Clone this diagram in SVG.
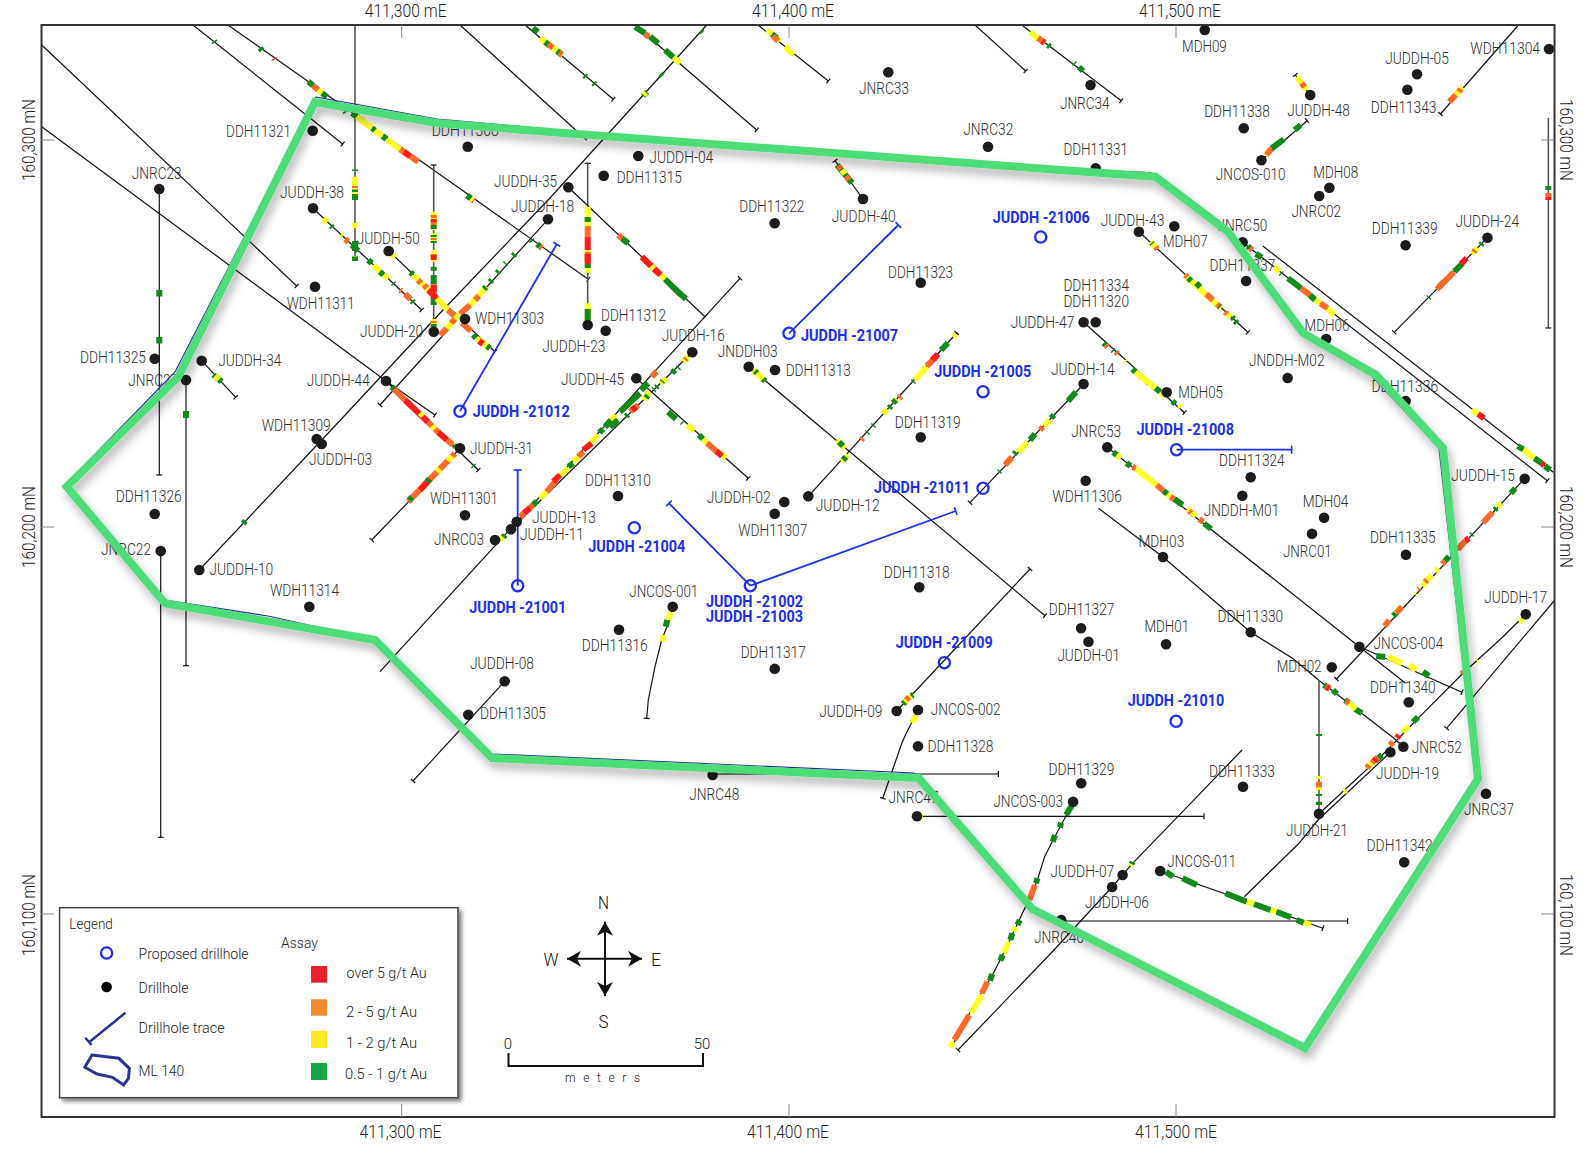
<svg xmlns="http://www.w3.org/2000/svg" width="1586" height="1150" viewBox="0 0 1586 1150">
<style>
text{font-family:Roboto,"Liberation Sans",sans-serif}
.l{font-size:16.5px;font-weight:300;fill:#2e2e2e}
.b{font-size:16.5px;font-weight:700;fill:#1a2ff0}
.a{font-size:17.5px;font-weight:300;fill:#222}
.k{font-size:15px;font-weight:300;fill:#222}
.c{font-size:19px;font-weight:300;fill:#111;text-anchor:middle}
.d{fill:#1c1c1c}
.h{fill:none;stroke:#1a2ff0;stroke-width:2.3}
.t,.n,.v,.u,.p{fill:none}
.t,.n{stroke:#111;stroke-width:1.2}
.v,.u{stroke:#555;stroke-width:1.6}
.t,.v{marker-end:url(#cap)}
.p{stroke:#1a2ff0;stroke-width:1.8;marker-end:url(#bcap)}
.r,.o,.y,.g{fill:none;stroke-width:6}
.r{stroke:#ff1a1a}.o{stroke:#ff6a2a}.y{stroke:#ffff2a}.g{stroke:#118a1a}
.i{fill:none;stroke:#888;stroke-width:1}
</style>
<defs>
<marker id="cap" markerUnits="userSpaceOnUse" markerWidth="8" markerHeight="8" refX="4" refY="4" orient="auto"><path d="M4 1V7" stroke="#111" stroke-width="1.2"/></marker>
<marker id="bcap" markerUnits="userSpaceOnUse" markerWidth="10" markerHeight="10" refX="5" refY="5" orient="auto"><path d="M5 1V9" stroke="#1a2ff0" stroke-width="1.6"/></marker>
<marker id="st" markerUnits="userSpaceOnUse" markerWidth="16" markerHeight="18" refX="14" refY="9" orient="auto"><path d="M14 9L0 1L4 9L0 17Z" fill="#111"/></marker>
<filter id="sh" x="-5%" y="-5%" width="110%" height="110%"><feDropShadow dx="3" dy="6" stdDeviation="5" flood-color="#000" flood-opacity=".32"/></filter>
<filter id="ls" x="-5%" y="-5%" width="110%" height="110%"><feDropShadow dx="3" dy="3" stdDeviation="2" flood-color="#000" flood-opacity=".5"/></filter>
</defs>
<rect width="1586" height="1150" fill="#fff"/>
<g id="connectors">
<path class="t" d="M193 25L342.7 144"/>
<path class="t" d="M228 25L588.3 279.3"/>
<path class="t" d="M41.7 45L296.7 286"/>
<path class="t" d="M41.7 126.7L386 381L435 415"/>
<path class="u" d="M355 25V261"/>
<path class="v" d="M433.7 331V165"/>
<path class="v" d="M587.7 325V163.3"/>
<path class="t" d="M159.3 189V475"/>
<path class="t" d="M186 380V665.7"/>
<path class="t" d="M160.7 551V837.3"/>
<path class="t" d="M313 208.3L421.7 310"/>
<path class="t" d="M388.7 251L495 351.7"/>
<path class="t" d="M548 219.3L380 405"/>
<path class="n" d="M706.7 25L550 198L443 310L333 428L199.3 570"/>
<path class="t" d="M568.3 187.3L705 316.7"/>
<path class="t" d="M380 671.7L516.7 522L740 278.3"/>
<path class="n" d="M692.3 352.3L511 529.3"/>
<path class="t" d="M636.3 378.3L748.3 478.3"/>
<path class="t" d="M748.7 366.7L1045 615.7"/>
<path class="t" d="M808.3 496.3L956.7 333"/>
<path class="t" d="M1083.8 384L970 502.7"/>
<path class="t" d="M863 199L835 160.7"/>
<path class="n" d="M1098.5 508.3L1163 557L1250.7 632.3L1292.5 658.3L1318.5 680L1394 738.3L1403.3 746.7"/>
<path class="n" d="M1525.6 614.3L1503 636.7L1463 673.3L1418 718.3L1382.3 755L1319 813.7"/>
<path class="t" d="M1554 601L1446.6 728.3"/>
<path class="n" d="M1390.4 752.3L1318 820L1299 843.3L1244.4 896.7"/>
<path class="u" d="M1319 813.7V680"/>
<path class="t" d="M918 710L911.4 723.3Q906 733 901.8 743.3L891.4 773.3L882.8 798.3"/>
<path class="v" d="M712.6 774H998.4"/>
<path class="t" d="M917 816.3H1204"/>
<path class="v" d="M1061 921H1347.6"/>
<path class="t" d="M1242 750L1177.8 816.7L1132.6 863.3L1112 887L1054 950L958 1050"/>
<path class="n" d="M1073 802L1068.4 811.7L1061 825L1054 838.3L1044.6 856.7L1037.4 880L1030.3 896.7L1018.4 921.7L1001.8 956.7L991.3 977.3L975.6 1001.7L951.8 1046.7"/>
<path class="t" d="M672.7 606.7L668.3 623.3L661.7 640L655 666.7L648.3 700L646.7 718.3"/>
<path class="t" d="M1160.2 871L1322.9 928.3"/>
<path class="t" d="M896.7 711L1030 569"/>
<path class="t" d="M504.7 681.3L413 781"/>
<path class="t" d="M386 381L478.3 470"/>
<path class="t" d="M460 448.3L371.7 540"/>
<path class="t" d="M201.7 360.7L235.7 397.3"/>
<path class="n" d="M460 25L586.7 140"/>
<path class="t" d="M525 25L613.3 99.3"/>
<path class="t" d="M635 25L756.7 130"/>
<path class="t" d="M758 25L828.3 81"/>
<path class="t" d="M975 25L1025.7 71"/>
<path class="t" d="M1023 26L1121.2 100.7"/>
<path class="p" d="M460 411.3L556.7 244.3"/>
<path class="p" d="M517.7 585.7V470"/>
<path class="p" d="M789 333.3L898.3 225"/>
<path class="p" d="M750.3 585.7L669 503.3"/>
<path class="p" d="M750.3 585.7L955.7 511"/>

<path class="g" d="M214 41L215 42.5M260 48L262 50.5M308.3 81.7L313 85.5M322 93L327 97M345 111L346 112.5M352 113L358 117.5M372 128L375 130.5M382.5 136L386.5 139M467 195.5L471 198.5M531 240L532 241.5M537 244L540 246.5"/>
<path class="r" d="M274 58.5L274.6 59.5"/>
<path class="o" d="M313 85.5L318.3 90M360 119L363 121M400 149.3L418.3 161.7M472 199.5L474 201M540 246.5L542 248"/>
<path class="y" d="M318.3 90L322 93M356.7 116.7L372 128M375 130.5L382.5 136M386.7 139.3L400 149.3M471 198.5L473 200"/>
<path class="r" d="M404 152L410 156"/>
<path class="g" d="M355 169.5V171M355 194V200"/>
<path class="y" d="M355 176.7V194M355 223V228M355 256V260"/>
<path class="o" d="M355 186V188"/>
<path class="g" d="M355 189.5V192M355 241V251M355 256.5V261"/>
<path class="y" d="M433.7 211.7V230M433.7 233V243M433.7 250V262M433.7 319V326"/>
<path class="o" d="M433.7 215V218M433.7 222V225M433.7 238V240M433.7 254V257M433.7 284V293M433.7 321V323"/>
<path class="r" d="M433.7 219V222M433.7 255V260M433.7 285V292"/>
<path class="g" d="M433.7 225V229M433.7 235V237M433.7 241V243M433.7 266.7V270.7M433.7 275V284M433.7 293V305M433.7 324V327"/>
<path class="y" d="M587.7 206.7V226M587.7 250V254M587.7 273V268M587.7 303.3V322M587.7 306V309"/>
<path class="g" d="M587.7 217V222M587.7 264V268M587.7 309V322"/>
<path class="o" d="M587.7 226V237M587.7 252V262"/>
<path class="r" d="M587.7 237V250M587.7 254V264"/>
<path class="g" d="M159.3 290V296.5M159.3 337V343.5M186 411V418"/>
<path class="y" d="M323.3 218.3L327.3 222.3M341 234.5L342.5 236M373.3 265L380 271.7M383.3 275L388.3 278.3"/>
<path class="g" d="M331 226L332.5 227.5M351.7 245L358.3 250.7M368.3 260L371.7 263.3M380 271.7L383.3 275M393 283L394 284M412 301L413.5 302.5"/>
<path class="o" d="M345 239.3L348.3 241.7M400 290L401.5 291M405 294L410.7 299.3"/>
<path class="y" d="M392 255L395 257.5M413.3 275L428.3 290M436.7 298.3L448 310M476.7 338.3L490 348.3"/>
<path class="g" d="M410.5 272.3L413 274.5M448 310L455 316M473 335L476 338M487 346L490 348.3"/>
<path class="o" d="M418 280L421 283M424 285L427 288M448 310L455 316M462 323L471 331"/>
<path class="r" d="M428.3 290L436.7 298.3M479 341L483 344"/>
<path class="o" d="M440 335L446.7 328.3M460 314L470 305"/>
<path class="y" d="M446.7 328.3L460 314M470 305L486.7 286.7"/>
<path class="o" d="M451 323L455 319M475 300L479 296"/>
<path class="g" d="M484 289L486 287M490 282L492 280M497 273L499 271M505 264L506 263M513 256L515 254"/>
<path class="g" d="M701 31L702.5 32.5M660.5 74L662.5 76M643 96L647 92"/>
<path class="y" d="M643.5 95L646 92.5"/>
<path class="g" d="M243 523.5L245.5 521"/>
<path class="o" d="M618.3 235L622 238.5M641.7 256.7L661 275M675 289L681 295"/>
<path class="g" d="M622 238.5L628.3 243.3M665 279L675 289L686 299"/>
<path class="y" d="M651 266L654 269M661 275L665 279"/>
<path class="r" d="M642 257L651 266M654 269L660 274.5"/>
<path class="g" d="M505 535L503 537.5M533 505L537 501M568.3 466.7L573.3 463.3M599.3 432.7L603 429M605 427L611 420M653.3 390L654.5 389M656 387.5L657.5 386M672 373L675 370M678 368.5L679 367.5"/>
<path class="g" stroke-width="7.5" d="M620 411.7L640 393.3M641 390L648.3 383.3"/>
<path class="y" d="M540 498.3L546.7 491.7M560 475L568.3 468.3M573.3 461.7L578.3 456.7M590 443.3L598.3 435M611 420L616 415M643.3 400L650 391.7M660 383.3L666.7 378.3M683.3 361.7L688.3 356.7M500 540L503 537"/>
<path class="o" d="M546.7 491.7L556.7 480M578.3 456.7L583.3 451.7M520 516.7L533 505M651.7 376.7L656.7 371.7M630 411.7L638.3 405M685 360L686.5 358.5"/>
<path class="r" d="M553.3 481.7L560 475M583.3 450L591.7 443.3M524 513L530 508M632 410L636 407"/>
<path class="g" d="M610 427L618 420M646 398L648 395.5M662 382L663 381M626 416.5L628 414.5"/>
<path class="g" d="M668 412L676 419M682 422L683 423M699 435L703 439"/>
<path class="y" d="M687 425L694 431M703 439L707 443M715 450L726 458"/>
<path class="o" d="M707 443L716 451"/>
<path class="r" d="M716 451L722 456"/>
<path class="y" d="M753 370L765 380.7M837 440L845 448.3"/>
<path class="g" d="M755 371L757 373M763 379L765 381M839 442L843 446"/>
<path class="y" d="M841.7 461.7L848 455M883 414L887 409M893 403L897 399M915 380L926.7 366.7M953 337L956 334"/>
<path class="g" d="M843 460L846 457M867 433L868 432M873 426L874 425M889 408L891 406M893 403L896 400M913 382L914 381M941 350L948 343"/>
<path class="o" d="M861 440L863 438M899 398L901 396M926.7 366L938 355"/>
<path class="r" d="M932 360L938 354"/>
<path class="g" d="M1076 392L1068 401M1054 415L1051 418M1035 434L1030 440M1014 454L1016 452M1000 471L999 472"/>
<path class="y" d="M1050 420L1044 426M1028 442L1018 452M1010 460L1007 463"/>
<path class="o" d="M1043 427L1040 430M1012 457L1005 465"/>
<path class="g" d="M837 165L852 183" stroke-width="4"/>
<path class="y" d="M842 170L845 174" stroke-width="4"/>
<path class="o" d="M846 176L849 180M838 166L841 169" stroke-width="4"/>
<path class="g" d="M1324 685L1328 688M1333 690L1337 694M1345 700L1348 702M1355 709L1362 713.3"/>
<path class="o" d="M1326 686L1330 689M1346 701L1350 704"/>
<path class="r" d="M1327 687L1329 688.5"/>
<path class="y" d="M1349 703L1356 709"/>
<path class="y" d="M1519.5 622L1522.5 619M1479 661L1478 662"/>
<path class="o" d="M1464 672L1462 674"/>
<path class="g" d="M1418 717L1413 722M1382 755L1375 761"/>
<path class="y" d="M1409 726L1403 732M1390 745L1393 742M1373 762L1367 768M1346 790L1344 792"/>
<path class="o" d="M1393 742L1390 745M1378 757L1372 763M1369 765L1367 768"/>
<path class="r" d="M1399 735L1397 738M1376 759L1374 761"/>
<path class="g" d="M1319 734V736M1319 794V796M1319 801.7V805"/>
<path class="y" d="M1319 776V779M1319 787V790"/>
<path class="o" d="M1319 781.7V787.3"/>
<path class="y" d="M916 715L912.3 722.7M920 816.3H923M1132 864L1131 866"/>
<path class="g" d="M1132.5 862L1131.5 864"/>
<path class="g" d="M1072.2 805L1066 815M1061.2 822.7L1059.8 827.3M1055 835L1052.7 841.7M1037.4 878.3L1036 883.3M1019.8 920L1017.5 925M1012.2 933.3L1010.3 940M1002.7 955L1000.3 960.7M992.2 974L989.9 980.7"/>
<path class="o" d="M1035 885L1029.3 900M987.5 981.7L981.8 993.3M969.4 1015L954.2 1040"/>
<path class="y" d="M1016 926.7L1014.1 931.7M1008.9 941.7L1004 953.3M981.8 995L970.8 1013.3M953.2 1041.7L950.4 1047.3"/>
<path class="y" d="M671 611.7L668.3 620M664 635L662.3 641.7"/>
<path class="g" d="M667.3 620L665.7 626.7"/>
<path class="g" d="M1165.9 871.7L1173 876.7M1182.5 878.3L1196.8 885M1225.4 893.3L1246.8 901.7M1253.9 904L1270.5 910M1276.3 911.7L1291 917.3M1296.7 920L1303.8 922.7"/>
<path class="y" d="M1246.8 901.7L1253.9 904M1270.5 910L1276.3 911.7M1303.8 922.7L1311 925"/>
<path class="g" d="M903 704L906 701M911 696L913.3 695"/>
<path class="y" d="M905 702L908 699M909 698L911 696"/>
<path class="o" d="M906 700L909 697"/>
<path class="g" d="M391.7 386.7L394 389"/>
<path class="o" d="M394 389L405 400M428 422L438 432M447 440L453 445"/>
<path class="r" d="M405 400L428 422M438 432L447 440"/>
<path class="y" d="M420 413L423 416M432 426L435 429"/>
<path class="g" d="M454 445L456 447M473 465.5L474 466.5"/>
<path class="o" d="M455 453.3L408.3 501.7"/>
<path class="y" d="M452 456L448 461M440 469L437 472"/>
<path class="r" d="M430 479L420 490"/>
<path class="g" d="M429 479L427 482M412 497L409 500"/>
<path class="g" d="M213.3 375L221.7 381.7" stroke-width="4"/>
<path class="y" d="M215 376L219 379.5" stroke-width="4"/>
<path class="y" d="M540 38L563 55M673.3 57.3L680 63.3M767 30L780 41M785 46.7L793.3 55M1030 32L1045 43"/>
<path class="g" d="M533 28L538 32M545 42L550 46M557 51L561 54M584.5 75.5L586 77M593.5 83L595 84.5M635 26.7L645 33.3M650 36.7L658.3 43.3M665 50L673.3 57.3M772 34L777 38M1048 45L1050 46.7M1074 63L1075 64M1079 67L1083 71"/>
<path class="o" d="M548 44L553 48M559 53L562 55M645 34L649 37M773 36L778 41M1038 38L1045 43"/>
<path class="r" d="M1042 41L1044 42.5"/>
<g id="east-traces" transform="matrix(.9948 0 0 1 5.41 0)">
<path class="t" d="M1083.8 322.3L1185.3 412.7"/>
<path class="t" d="M1139.4 231.7L1249 332.3"/>
<path class="t" d="M1262.6 160.3L1308.5 120.7"/>
<path class="t" d="M1311.6 95L1296.6 75"/>
<path class="t" d="M1521 25L1442.5 114"/>
<path class="t" d="M1489.8 237.7L1396 332.3"/>
<path class="t" d="M1243.7 242.3L1550 480.7"/>
<path class="n" d="M1264 246L1556 472.3"/>
<path class="t" d="M1527.2 478.7L1338 679"/>
<path class="n" d="M1107.6 447.3L1361 646.7L1407.5 683.3"/>
<path class="t" d="M1361 646.7L1464.2 692.3"/>
<path class="v" d="M1551 118V328"/>
<path class="p" d="M1177.2 449.7H1293"/>
<path class="g" d="M1104 343L1106 345M1113 350L1114 351M1132.8 369.3L1136 372M1156 388L1161 392M1173 401L1176 404"/>
<path class="o" d="M1106 345L1108 347M1116 352L1118 354M1140 375L1143 378M1147 381L1150 384M1153 386L1156 388"/>
<path class="y" d="M1126 360L1127 361M1136 372L1156 388M1161 392L1165 396M1180 405L1182 407"/>
<path class="y" d="M1151 242L1157 248M1185.3 275L1222 308.3M1228 314L1232 317"/>
<path class="o" d="M1156 247L1158 249M1186 275L1188 277M1207 294L1214 300M1218 304L1221 307M1226 312L1228 314"/>
<path class="g" d="M1152 243L1153 244M1189 278L1192 281M1197 283L1201 287M1220 306L1221 307M1233 317L1235 319M1236 321L1238 323"/>
<path class="y" d="M1266 155L1269 152"/>
<path class="o" d="M1267.5 155L1272.8 148.3"/>
<path class="g" d="M1272.8 148.3L1285 139.3M1296 130L1302 125"/>
<path class="y" d="M1308 90L1298 77" stroke-width="4"/>
<path class="o" d="M1306 87L1303 83" stroke-width="4"/>
<path class="y" d="M1465 87.3L1451.3 101.7"/>
<path class="o" d="M1458 95L1451.3 101.7M1463 89L1461 92"/>
<path class="g" d="M1484.5 243.3L1483 245M1465 263L1456.5 271.7M1431.5 297L1430.5 298M1446 281.7L1441 287"/>
<path class="y" d="M1480 248L1474 254"/>
<path class="o" d="M1477.5 250L1476 252M1456 272L1439 289.3"/>
<path class="r" d="M1469 258L1463 264"/>
<path class="g" d="M1249 246L1251 248M1257 254L1263 257.3M1282 273L1283 274M1289.2 278.3L1293.8 281.7M1293.8 281.7L1302.5 288.3M1311.3 295L1316.5 300"/>
<path class="o" d="M1251 248L1253.5 250M1302.5 288.3L1311.3 295M1321.8 303.3L1329 308.3"/>
<path class="y" d="M1275.2 266.7L1280.8 271.7M1316.5 300L1321.8 303.3M1329 308.3L1335.8 315"/>
<path class="y" d="M1474 410L1480.3 414M1525.8 449.3L1537 458.3"/>
<path class="r" d="M1480.3 414L1486.3 418.3M1544 463L1547 465.5"/>
<path class="g" d="M1520.2 446L1525.8 449.3M1537 458.3L1544 463M1547.5 466L1552.8 470"/>
<path class="g" d="M1517.8 488.3L1513.2 493.3M1499 508L1497 510M1474.5 534L1473.5 535M1451.2 556.7L1447 561M1397.7 613.3L1395 616"/>
<path class="y" d="M1503.8 503.3L1500 507M1440.8 568.3L1437.3 571.7M1433.8 575L1424.3 586M1417.5 593L1416.5 594M1404 606.7L1400 611"/>
<path class="o" d="M1495 512.3L1485.2 522.7M1467.7 540.7L1460 549.3M1447 561L1444.3 564M1429 580L1427 582M1421.5 588.3L1420.5 589.3M1404 606.7L1398 613M1391 620L1386.5 626"/>
<path class="r" d="M1471.2 538.3L1467.7 540.7"/>
<path class="g" d="M1113.5 452.3L1118 455.5M1127 463L1131 466M1164 490.7L1168 494M1175 499L1183.5 505M1193 513L1195 515M1205 523.5L1212 529"/>
<path class="y" d="M1117 455L1121.2 458M1136.3 468.3L1157.3 485M1168 494L1171 497M1188 509L1197 516"/>
<path class="o" d="M1133 467L1136.3 468.3M1157.3 485L1164 490.7M1171 497L1175 499M1190 511L1192 513M1200 519L1204 522"/>
<path class="g" d="M1378 656L1387 657" stroke-width="4"/>
<path class="y" d="M1390 656.7L1404 663.3M1411 665L1418 670"/>
<path class="g" d="M1425 671.7L1431 676M1551 186V190"/>
<path class="o" d="M1551 193V197"/>
<path class="r" d="M1551 197V200"/>
</g>
</g>
<g id="JNRC23"><circle class="d" cx="159.3" cy="189" r="5.3"/><text class="l" x="131.7" y="179" textLength="50" lengthAdjust="spacingAndGlyphs">JNRC23</text></g>
<g id="DDH11321"><circle class="d" cx="312.7" cy="130.7" r="5.3"/><text class="l" x="226" y="136.7" textLength="65" lengthAdjust="spacingAndGlyphs">DDH11321</text></g>
<g id="DDH11308"><circle class="d" cx="467.7" cy="146.7" r="5.3"/><text class="l" x="431.7" y="136" textLength="67" lengthAdjust="spacingAndGlyphs">DDH11308</text></g>
<g id="JUDDH-38"><circle class="d" cx="313" cy="208.3" r="5.3"/><text class="l" x="280" y="198.3" textLength="64" lengthAdjust="spacingAndGlyphs">JUDDH-38</text></g>
<g id="JUDDH-50"><circle class="d" cx="388.7" cy="251" r="5.3"/><text class="l" x="356.7" y="244.3" textLength="63" lengthAdjust="spacingAndGlyphs">JUDDH-50</text></g>
<g id="WDH11311"><circle class="d" cx="315" cy="286.7" r="5.3"/><text class="l" x="286.7" y="308.7" textLength="68" lengthAdjust="spacingAndGlyphs">WDH11311</text></g>
<g id="WDH11303"><circle class="d" cx="465" cy="319" r="5.3"/><text class="l" x="475" y="324.3" textLength="69" lengthAdjust="spacingAndGlyphs">WDH11303</text></g>
<g id="JUDDH-20"><circle class="d" cx="433.7" cy="331.7" r="5.3"/><text class="l" x="360" y="337.3" textLength="63" lengthAdjust="spacingAndGlyphs">JUDDH-20</text></g>
<g id="DDH11325"><circle class="d" cx="154.7" cy="358.7" r="5.3"/><text class="l" x="80" y="363.3" textLength="66" lengthAdjust="spacingAndGlyphs">DDH11325</text></g>
<g id="JUDDH-34"><circle class="d" cx="201.7" cy="360.7" r="5.3"/><text class="l" x="218.3" y="366" textLength="63" lengthAdjust="spacingAndGlyphs">JUDDH-34</text></g>
<g id="JUDDH-35"><circle class="d" cx="568.3" cy="187.3" r="5.3"/><text class="l" x="494" y="187.3" textLength="63" lengthAdjust="spacingAndGlyphs">JUDDH-35</text></g>
<g id="JUDDH-18"><circle class="d" cx="548" cy="219.3" r="5.3"/><text class="l" x="511" y="211.7" textLength="63" lengthAdjust="spacingAndGlyphs">JUDDH-18</text></g>
<g id="JUDDH-04"><circle class="d" cx="638.3" cy="156" r="5.3"/><text class="l" x="649.3" y="163.3" textLength="64" lengthAdjust="spacingAndGlyphs">JUDDH-04</text></g>
<g id="DDH11315"><circle class="d" cx="603.7" cy="175.7" r="5.3"/><text class="l" x="616.7" y="182.7" textLength="65" lengthAdjust="spacingAndGlyphs">DDH11315</text></g>
<g id="DDH11322"><circle class="d" cx="774.7" cy="223.3" r="5.3"/><text class="l" x="739.3" y="211.7" textLength="65" lengthAdjust="spacingAndGlyphs">DDH11322</text></g>
<g id="JUDDH-40"><circle class="d" cx="863" cy="199" r="5.3"/><text class="l" x="831.7" y="221.7" textLength="64" lengthAdjust="spacingAndGlyphs">JUDDH-40</text></g>
<g id="JNRC33"><circle class="d" cx="888.3" cy="72.3" r="5.3"/><text class="l" x="859" y="94.3" textLength="50" lengthAdjust="spacingAndGlyphs">JNRC33</text></g>
<g id="JNRC32"><circle class="d" cx="988" cy="146.7" r="5.3"/><text class="l" x="963.3" y="135" textLength="50" lengthAdjust="spacingAndGlyphs">JNRC32</text></g>
<g id="DDH11323"><circle class="d" cx="920.7" cy="282.7" r="5.3"/><text class="l" x="888" y="277.7" textLength="65" lengthAdjust="spacingAndGlyphs">DDH11323</text></g>
<g id="DDH11312"><circle class="d" cx="605.7" cy="330.7" r="5.3"/><text class="l" x="601" y="320.7" textLength="65" lengthAdjust="spacingAndGlyphs">DDH11312</text></g>
<g id="JUDDH-23"><circle class="d" cx="587.7" cy="325" r="5.3"/><text class="l" x="542.3" y="351.7" textLength="63" lengthAdjust="spacingAndGlyphs">JUDDH-23</text></g>
<g id="JUDDH-16"><circle class="d" cx="692.3" cy="352.3" r="5.3"/><text class="l" x="661.7" y="341" textLength="63" lengthAdjust="spacingAndGlyphs">JUDDH-16</text></g>
<g id="JNDDH03"><circle class="d" cx="748.7" cy="366.7" r="5.3"/><text class="l" x="717.7" y="357.3" textLength="60" lengthAdjust="spacingAndGlyphs">JNDDH03</text></g>
<g id="DDH11313"><circle class="d" cx="775" cy="370" r="5.3"/><text class="l" x="785.7" y="375.7" textLength="65" lengthAdjust="spacingAndGlyphs">DDH11313</text></g>
<g id="DDH11319"><circle class="d" cx="920.7" cy="437.3" r="5.3"/><text class="l" x="894.7" y="427.7" textLength="66" lengthAdjust="spacingAndGlyphs">DDH11319</text></g>
<g id="JUDDH-45"><circle class="d" cx="636.3" cy="378.3" r="5.3"/><text class="l" x="561" y="385" textLength="63" lengthAdjust="spacingAndGlyphs">JUDDH-45</text></g>
<g id="JUDDH-44"><circle class="d" cx="386" cy="381" r="5.3"/><text class="l" x="306.7" y="385.7" textLength="63" lengthAdjust="spacingAndGlyphs">JUDDH-44</text></g>
<g id="JNRC27"><circle class="d" cx="186" cy="380" r="5.3"/><text class="l" x="128.3" y="385.7" textLength="50" lengthAdjust="spacingAndGlyphs">JNRC27</text></g>
<g id="WDH11309"><circle class="d" cx="316.7" cy="439" r="5.3"/><text class="l" x="261.7" y="430.7" textLength="69" lengthAdjust="spacingAndGlyphs">WDH11309</text></g>
<g id="JUDDH-03"><circle class="d" cx="321.7" cy="444" r="5.3"/><text class="l" x="309" y="465" textLength="63" lengthAdjust="spacingAndGlyphs">JUDDH-03</text></g>
<g id="JUDDH-31"><circle class="d" cx="460" cy="448.3" r="5.3"/><text class="l" x="470" y="454.3" textLength="63" lengthAdjust="spacingAndGlyphs">JUDDH-31</text></g>
<g id="DDH11326"><circle class="d" cx="154.7" cy="514" r="5.3"/><text class="l" x="115.7" y="502.3" textLength="66" lengthAdjust="spacingAndGlyphs">DDH11326</text></g>
<g id="WDH11301"><circle class="d" cx="465" cy="515.3" r="5.3"/><text class="l" x="430" y="504.3" textLength="68" lengthAdjust="spacingAndGlyphs">WDH11301</text></g>
<g id="JNRC22"><circle class="d" cx="160.7" cy="551" r="5.3"/><text class="l" x="101" y="555" textLength="50" lengthAdjust="spacingAndGlyphs">JNRC22</text></g>
<g id="JUDDH-10"><circle class="d" cx="199.3" cy="570" r="5.3"/><text class="l" x="209.3" y="575.3" textLength="64" lengthAdjust="spacingAndGlyphs">JUDDH-10</text></g>
<g id="WDH11314"><circle class="d" cx="309.3" cy="606.7" r="5.3"/><text class="l" x="270" y="596" textLength="69" lengthAdjust="spacingAndGlyphs">WDH11314</text></g>
<g id="JUDDH-13"><circle class="d" cx="516.7" cy="521.7" r="5.3"/><text class="l" x="532" y="523.3" textLength="64" lengthAdjust="spacingAndGlyphs">JUDDH-13</text></g>
<g id="JUDDH-11"><circle class="d" cx="511" cy="529.3" r="5.3"/><text class="l" x="520" y="540" textLength="64" lengthAdjust="spacingAndGlyphs">JUDDH-11</text></g>
<g id="JNRC03"><circle class="d" cx="495" cy="540" r="5.3"/><text class="l" x="434" y="545" textLength="50" lengthAdjust="spacingAndGlyphs">JNRC03</text></g>
<g id="JUDDH-08"><circle class="d" cx="504.7" cy="681.3" r="5.3"/><text class="l" x="470" y="669.3" textLength="64" lengthAdjust="spacingAndGlyphs">JUDDH-08</text></g>
<g id="DDH11305"><circle class="d" cx="468.3" cy="714.7" r="5.3"/><text class="l" x="480" y="718.7" textLength="66" lengthAdjust="spacingAndGlyphs">DDH11305</text></g>
<g id="DDH11310"><circle class="d" cx="618" cy="496" r="5.3"/><text class="l" x="585" y="486" textLength="66" lengthAdjust="spacingAndGlyphs">DDH11310</text></g>
<g id="JUDDH-02"><circle class="d" cx="784.3" cy="502" r="5.3"/><text class="l" x="706.7" y="503.3" textLength="64" lengthAdjust="spacingAndGlyphs">JUDDH-02</text></g>
<g id="WDH11307"><circle class="d" cx="774.7" cy="513.7" r="5.3"/><text class="l" x="738.3" y="536" textLength="69" lengthAdjust="spacingAndGlyphs">WDH11307</text></g>
<g id="JUDDH-12"><circle class="d" cx="808.3" cy="496.3" r="5.3"/><text class="l" x="815.7" y="511" textLength="64" lengthAdjust="spacingAndGlyphs">JUDDH-12</text></g>
<g id="JNCOS-001"><circle class="d" cx="672.7" cy="606.7" r="5.3"/><text class="l" x="629.3" y="596.7" textLength="69" lengthAdjust="spacingAndGlyphs">JNCOS-001</text></g>
<g id="DDH11316"><circle class="d" cx="619" cy="629.7" r="5.3"/><text class="l" x="581.7" y="651" textLength="66" lengthAdjust="spacingAndGlyphs">DDH11316</text></g>
<g id="DDH11318"><circle class="d" cx="919.3" cy="587.3" r="5.3"/><text class="l" x="883.7" y="577.7" textLength="66" lengthAdjust="spacingAndGlyphs">DDH11318</text></g>
<g id="DDH11317"><circle class="d" cx="774.7" cy="668.7" r="5.3"/><text class="l" x="740.7" y="657.7" textLength="65" lengthAdjust="spacingAndGlyphs">DDH11317</text></g>
<g id="JUDDH-09"><circle class="d" cx="896.7" cy="711" r="5.3"/><text class="l" x="819.3" y="716.7" textLength="63" lengthAdjust="spacingAndGlyphs">JUDDH-09</text></g>
<g id="JNCOS-002"><circle class="d" cx="918" cy="710" r="5.3"/><text class="l" x="930.7" y="715" textLength="70" lengthAdjust="spacingAndGlyphs">JNCOS-002</text></g>
<g id="DDH11328"><circle class="d" cx="918" cy="746.3" r="5.3"/><text class="l" x="927.5" y="752.3" textLength="66" lengthAdjust="spacingAndGlyphs">DDH11328</text></g>
<g id="JNRC52"><circle class="d" cx="1403.3" cy="746.7" r="5.3"/><text class="l" x="1411.8" y="753.3" textLength="50" lengthAdjust="spacingAndGlyphs">JNRC52</text></g>
<g id="JUDDH-19"><circle class="d" cx="1390.4" cy="752.3" r="5.3"/><text class="l" x="1376" y="779" textLength="63" lengthAdjust="spacingAndGlyphs">JUDDH-19</text></g>
<g id="DDH11329"><circle class="d" cx="1081.2" cy="783.3" r="5.3"/><text class="l" x="1048.4" y="775" textLength="66" lengthAdjust="spacingAndGlyphs">DDH11329</text></g>
<g id="DDH11333"><circle class="d" cx="1243" cy="786.7" r="5.3"/><text class="l" x="1209" y="777.3" textLength="66" lengthAdjust="spacingAndGlyphs">DDH11333</text></g>
<g id="JNCOS-003"><circle class="d" cx="1073.1" cy="801.7" r="5.3"/><text class="l" x="993.2" y="806.7" textLength="70" lengthAdjust="spacingAndGlyphs">JNCOS-003</text></g>
<g id="JNRC47"><circle class="d" cx="917" cy="816.3" r="5.3"/><text class="l" x="888.5" y="802.7" textLength="50" lengthAdjust="spacingAndGlyphs">JNRC47</text></g>
<g id="JNRC37"><circle class="d" cx="1486" cy="793.7" r="5.3"/><text class="l" x="1464" y="815" textLength="50" lengthAdjust="spacingAndGlyphs">JNRC37</text></g>
<g id="JUDDH-21"><circle class="d" cx="1319" cy="813.7" r="5.3"/><text class="l" x="1286" y="835.7" textLength="62" lengthAdjust="spacingAndGlyphs">JUDDH-21</text></g>
<g id="DDH11342"><circle class="d" cx="1404.2" cy="862.3" r="5.3"/><text class="l" x="1366.6" y="850.7" textLength="66" lengthAdjust="spacingAndGlyphs">DDH11342</text></g>
<g id="JNCOS-011"><circle class="d" cx="1160.2" cy="871" r="5.3"/><text class="l" x="1167.3" y="866.7" textLength="69" lengthAdjust="spacingAndGlyphs">JNCOS-011</text></g>
<g id="JUDDH-07"><circle class="d" cx="1122.6" cy="875" r="5.3"/><text class="l" x="1050.3" y="876.7" textLength="64" lengthAdjust="spacingAndGlyphs">JUDDH-07</text></g>
<g id="JUDDH-06"><circle class="d" cx="1112.1" cy="887" r="5.3"/><text class="l" x="1085" y="907.7" textLength="64" lengthAdjust="spacingAndGlyphs">JUDDH-06</text></g>
<g id="JNRC40"><circle class="d" cx="1061.2" cy="920" r="5.3"/><text class="l" x="1034" y="943.3" textLength="50" lengthAdjust="spacingAndGlyphs">JNRC40</text></g>
<g id="JNRC48"><circle class="d" cx="712.6" cy="775" r="5.3"/><text class="l" x="689.3" y="800" textLength="50" lengthAdjust="spacingAndGlyphs">JNRC48</text></g>
<g id="JUDDH-21001"><circle class="h" cx="517.7" cy="585.7" r="5.6"/><text class="b" x="469.3" y="612.7" textLength="97" lengthAdjust="spacingAndGlyphs">JUDDH -21001</text></g>
<g id="JUDDH-21002"><circle class="h" cx="750.3" cy="585.7" r="5.6"/><text class="b" x="706" y="606.7" textLength="97" lengthAdjust="spacingAndGlyphs">JUDDH -21002</text><text class="b" x="706" y="622.3" textLength="97" lengthAdjust="spacingAndGlyphs">JUDDH -21003</text></g>
<g id="JUDDH-21004"><circle class="h" cx="634.3" cy="527.7" r="5.6"/><text class="b" x="588.3" y="551.7" textLength="97" lengthAdjust="spacingAndGlyphs">JUDDH -21004</text></g>
<g id="JUDDH-21005"><circle class="h" cx="983" cy="391.7" r="5.6"/><text class="b" x="934.3" y="376.7" textLength="97" lengthAdjust="spacingAndGlyphs">JUDDH -21005</text></g>
<g id="JUDDH-21006"><circle class="h" cx="1040.7" cy="237" r="5.6"/><text class="b" x="992.7" y="222.7" textLength="97" lengthAdjust="spacingAndGlyphs">JUDDH -21006</text></g>
<g id="JUDDH-21007"><circle class="h" cx="789" cy="333.3" r="5.6"/><text class="b" x="801" y="341" textLength="97" lengthAdjust="spacingAndGlyphs">JUDDH -21007</text></g>
<g id="JUDDH-21009"><circle class="h" cx="944.3" cy="662.7" r="5.6"/><text class="b" x="895.7" y="648.3" textLength="97" lengthAdjust="spacingAndGlyphs">JUDDH -21009</text></g>
<g id="JUDDH-21011"><circle class="h" cx="983" cy="488.3" r="5.6"/><text class="b" x="874" y="493.3" textLength="96" lengthAdjust="spacingAndGlyphs">JUDDH -21011</text></g>
<g id="JUDDH-21012"><circle class="h" cx="460" cy="411.3" r="5.6"/><text class="b" x="472.7" y="417.3" textLength="97" lengthAdjust="spacingAndGlyphs">JUDDH -21012</text></g>
<g id="east-nodes" transform="matrix(.9948 0 0 1 5.41 0)">
<g id="MDH09"><circle class="d" cx="1205.6" cy="30" r="5.3"/><text class="l" x="1182.8" y="51.7" textLength="45" lengthAdjust="spacingAndGlyphs">MDH09</text></g>
<g id="JNRC34"><circle class="d" cx="1090.8" cy="85" r="5.3"/><text class="l" x="1060" y="109" textLength="50" lengthAdjust="spacingAndGlyphs">JNRC34</text></g>
<g id="JUDDH-05"><circle class="d" cx="1419" cy="74.3" r="5.3"/><text class="l" x="1387" y="64" textLength="64" lengthAdjust="spacingAndGlyphs">JUDDH-05</text></g>
<g id="WDH11304"><circle class="d" cx="1551.7" cy="49" r="5.3"/><text class="l" x="1472.6" y="54.3" textLength="70" lengthAdjust="spacingAndGlyphs">WDH11304</text></g>
<g id="DDH11343"><circle class="d" cx="1409.3" cy="89.7" r="5.3"/><text class="l" x="1372.5" y="112.7" textLength="66" lengthAdjust="spacingAndGlyphs">DDH11343</text></g>
<g id="JUDDH-48"><circle class="d" cx="1311.6" cy="95" r="5.3"/><text class="l" x="1288.5" y="116" textLength="63" lengthAdjust="spacingAndGlyphs">JUDDH-48</text></g>
<g id="DDH11338"><circle class="d" cx="1244.8" cy="128.3" r="5.3"/><text class="l" x="1205" y="116.7" textLength="66" lengthAdjust="spacingAndGlyphs">DDH11338</text></g>
<g id="DDH11331"><circle class="d" cx="1096" cy="168.3" r="5.3"/><text class="l" x="1063.5" y="155.3" textLength="65" lengthAdjust="spacingAndGlyphs">DDH11331</text></g>
<g id="JNCOS-010"><circle class="d" cx="1262.6" cy="160.3" r="5.3"/><text class="l" x="1216.8" y="180" textLength="70" lengthAdjust="spacingAndGlyphs">JNCOS-010</text></g>
<g id="MDH08"><circle class="d" cx="1330.9" cy="187.7" r="5.3"/><text class="l" x="1314.8" y="178.3" textLength="45" lengthAdjust="spacingAndGlyphs">MDH08</text></g>
<g id="JNRC02"><circle class="d" cx="1320.7" cy="196" r="5.3"/><text class="l" x="1292.7" y="217.3" textLength="50" lengthAdjust="spacingAndGlyphs">JNRC02</text></g>
<g id="JUDDH-43"><circle class="d" cx="1139.4" cy="231.7" r="5.3"/><text class="l" x="1101" y="225.7" textLength="64" lengthAdjust="spacingAndGlyphs">JUDDH-43</text></g>
<g id="MDH07"><circle class="d" cx="1175" cy="226.3" r="5.3"/><text class="l" x="1163.6" y="246.7" textLength="45" lengthAdjust="spacingAndGlyphs">MDH07</text></g>
<g id="JNRC50"><circle class="d" cx="1243.7" cy="242.3" r="5.3"/><text class="l" x="1218.5" y="230.7" textLength="50" lengthAdjust="spacingAndGlyphs">JNRC50</text></g>
<g id="DDH11337"><circle class="d" cx="1247.2" cy="281" r="5.3"/><text class="l" x="1210.5" y="270.7" textLength="66" lengthAdjust="spacingAndGlyphs">DDH11337</text></g>
<g id="DDH11339"><circle class="d" cx="1407.5" cy="245.3" r="5.3"/><text class="l" x="1373.6" y="234.3" textLength="66" lengthAdjust="spacingAndGlyphs">DDH11339</text></g>
<g id="JUDDH-24"><circle class="d" cx="1489.8" cy="237.7" r="5.3"/><text class="l" x="1457.6" y="227.3" textLength="64" lengthAdjust="spacingAndGlyphs">JUDDH-24</text></g>
<g id="DDH11334"><text class="l" x="1063.5" y="291" textLength="66" lengthAdjust="spacingAndGlyphs">DDH11334</text></g>
<g id="DDH11320"><circle class="d" cx="1096" cy="322.3" r="5.3"/><text class="l" x="1063.5" y="307.3" textLength="66" lengthAdjust="spacingAndGlyphs">DDH11320</text></g>
<g id="JUDDH-47"><circle class="d" cx="1083.8" cy="322.3" r="5.3"/><text class="l" x="1010.5" y="327.7" textLength="64" lengthAdjust="spacingAndGlyphs">JUDDH-47</text></g>
<g id="MDH06"><circle class="d" cx="1327.7" cy="339" r="5.3"/><text class="l" x="1306" y="330.7" textLength="45" lengthAdjust="spacingAndGlyphs">MDH06</text></g>
<g id="JNDDH-M02"><circle class="d" cx="1288.9" cy="378" r="5.3"/><text class="l" x="1250" y="366" textLength="76" lengthAdjust="spacingAndGlyphs">JNDDH-M02</text></g>
<g id="JUDDH-14"><circle class="d" cx="1083.8" cy="384" r="5.3"/><text class="l" x="1051" y="374.7" textLength="64" lengthAdjust="spacingAndGlyphs">JUDDH-14</text></g>
<g id="MDH05"><circle class="d" cx="1167.4" cy="392.3" r="5.3"/><text class="l" x="1179" y="398.3" textLength="45" lengthAdjust="spacingAndGlyphs">MDH05</text></g>
<g id="DDH11336"><circle class="d" cx="1407.5" cy="401" r="5.3"/><text class="l" x="1373.2" y="392.3" textLength="67" lengthAdjust="spacingAndGlyphs">DDH11336</text></g>
<g id="JNRC53"><circle class="d" cx="1107.6" cy="447.3" r="5.3"/><text class="l" x="1071.5" y="437.3" textLength="50" lengthAdjust="spacingAndGlyphs">JNRC53</text></g>
<g id="DDH11324"><circle class="d" cx="1251.8" cy="477.3" r="5.3"/><text class="l" x="1220" y="466" textLength="66" lengthAdjust="spacingAndGlyphs">DDH11324</text></g>
<g id="JNDDH-M01"><circle class="d" cx="1243.4" cy="495.7" r="5.3"/><text class="l" x="1204.5" y="515.7" textLength="76" lengthAdjust="spacingAndGlyphs">JNDDH-M01</text></g>
<g id="WDH11306"><circle class="d" cx="1085.9" cy="480.7" r="5.3"/><text class="l" x="1052.3" y="501.7" textLength="70" lengthAdjust="spacingAndGlyphs">WDH11306</text></g>
<g id="MDH04"><circle class="d" cx="1325.6" cy="517.7" r="5.3"/><text class="l" x="1304" y="507.3" textLength="46" lengthAdjust="spacingAndGlyphs">MDH04</text></g>
<g id="JNRC01"><circle class="d" cx="1313.4" cy="533.7" r="5.3"/><text class="l" x="1284.3" y="557.3" textLength="49" lengthAdjust="spacingAndGlyphs">JNRC01</text></g>
<g id="MDH03"><circle class="d" cx="1163.6" cy="557" r="5.3"/><text class="l" x="1139" y="547.3" textLength="46" lengthAdjust="spacingAndGlyphs">MDH03</text></g>
<g id="DDH11335"><circle class="d" cx="1407.9" cy="554.7" r="5.3"/><text class="l" x="1371.8" y="543.3" textLength="66" lengthAdjust="spacingAndGlyphs">DDH11335</text></g>
<g id="JUDDH-15"><circle class="d" cx="1527.2" cy="478.7" r="5.3"/><text class="l" x="1453.4" y="481.3" textLength="64" lengthAdjust="spacingAndGlyphs">JUDDH-15</text></g>
<g id="JUDDH-17"><circle class="d" cx="1528.3" cy="614.3" r="5.3"/><text class="l" x="1486.6" y="603.3" textLength="63" lengthAdjust="spacingAndGlyphs">JUDDH-17</text></g>
<g id="DDH11327"><circle class="d" cx="1081.3" cy="628.3" r="5.3"/><text class="l" x="1048.8" y="615" textLength="66" lengthAdjust="spacingAndGlyphs">DDH11327</text></g>
<g id="JUDDH-01"><circle class="d" cx="1088.7" cy="641.7" r="5.3"/><text class="l" x="1057.5" y="661" textLength="63" lengthAdjust="spacingAndGlyphs">JUDDH-01</text></g>
<g id="MDH01"><circle class="d" cx="1166.7" cy="644.3" r="5.3"/><text class="l" x="1145" y="631.7" textLength="45" lengthAdjust="spacingAndGlyphs">MDH01</text></g>
<g id="DDH11330"><circle class="d" cx="1251.8" cy="632.3" r="5.3"/><text class="l" x="1218.5" y="622.3" textLength="66" lengthAdjust="spacingAndGlyphs">DDH11330</text></g>
<g id="JNCOS-004"><circle class="d" cx="1361" cy="646.7" r="5.3"/><text class="l" x="1375.3" y="649.3" textLength="70" lengthAdjust="spacingAndGlyphs">JNCOS-004</text></g>
<g id="MDH02"><circle class="d" cx="1333.3" cy="667.3" r="5.3"/><text class="l" x="1278" y="671.7" textLength="45" lengthAdjust="spacingAndGlyphs">MDH02</text></g>
<g id="DDH11340"><circle class="d" cx="1410.7" cy="702.3" r="5.3"/><text class="l" x="1371.8" y="693.3" textLength="66" lengthAdjust="spacingAndGlyphs">DDH11340</text></g>
<g id="JUDDH-21008"><circle class="h" cx="1177.2" cy="449.7" r="5.6"/><text class="b" x="1137" y="435" textLength="98" lengthAdjust="spacingAndGlyphs">JUDDH -21008</text></g>
<g id="JUDDH-21010"><circle class="h" cx="1176.8" cy="721.3" r="5.6"/><text class="b" x="1128.2" y="706" textLength="97" lengthAdjust="spacingAndGlyphs">JUDDH -21010</text></g>
</g>
<g id="ML140">
<polygon fill="none" stroke="#2830a0" stroke-width="1.2" points="316,97 437,119 570,131 1060,169 1150,172.5 1228,229 1301,333 1368,372 1399,405 1439,448 1447,520 1476,778 1305,1048 1032.7,909.3 914,773 492,754 376,640 268,616 165,600 66,484 175,372"/>
<polygon fill="none" stroke="#4ddc78" stroke-width="8" filter="url(#sh)" points="315,102 436.7,123 560,132.7 1060,170 1155.5,176.7 1228,231.7 1303,333 1376,375 1443,448 1478,779 1305,1048 1032.7,909.3 918.5,778 492,758 375,640 165,603.3 66.7,486.7 178.3,376.7"/>
</g>
<g id="frame">
<rect x="41.5" y="25" width="1513" height="1092" fill="none" stroke="#333" stroke-width="2"/>
<path class="i" d="M401.7 25V38M789 25V38M1176 25V38M401.7 1104V1117M789 1104V1117M1176 1104V1117M41 140H54M41 527H54M41 914H54M1541 140H1554M1541 527H1554M1541 914H1554"/>
<text class="a" x="364.7" y="17" textLength="82" lengthAdjust="spacingAndGlyphs">411,300 mE</text>
<text class="a" x="752" y="17" textLength="82" lengthAdjust="spacingAndGlyphs">411,400 mE</text>
<text class="a" x="1139" y="17" textLength="82" lengthAdjust="spacingAndGlyphs">411,500 mE</text>
<text class="a" x="359.5" y="1138" textLength="82" lengthAdjust="spacingAndGlyphs">411,300 mE</text>
<text class="a" x="747" y="1138" textLength="82" lengthAdjust="spacingAndGlyphs">411,400 mE</text>
<text class="a" x="1135" y="1138" textLength="82" lengthAdjust="spacingAndGlyphs">411,500 mE</text>
<text class="a" transform="translate(35,181) rotate(-90)" textLength="82" lengthAdjust="spacingAndGlyphs">160,300 mN</text>
<text class="a" transform="translate(35,568) rotate(-90)" textLength="82" lengthAdjust="spacingAndGlyphs">160,200 mN</text>
<text class="a" transform="translate(35,956) rotate(-90)" textLength="82" lengthAdjust="spacingAndGlyphs">160,100 mN</text>
<text class="a" transform="translate(1559.5,99) rotate(90)" textLength="82" lengthAdjust="spacingAndGlyphs">160,300 mN</text>
<text class="a" transform="translate(1559.5,486) rotate(90)" textLength="82" lengthAdjust="spacingAndGlyphs">160,200 mN</text>
<text class="a" transform="translate(1559.5,874) rotate(90)" textLength="82" lengthAdjust="spacingAndGlyphs">160,100 mN</text>
</g>
<g id="legend">
<rect x="59.6" y="907.7" width="398.4" height="190" fill="#fff" stroke="#444" stroke-width="1.5" filter="url(#ls)"/>
<text class="k" x="69.3" y="929.3" textLength="43.6" lengthAdjust="spacingAndGlyphs">Legend</text>
<circle class="h" cx="106.6" cy="953" r="5.6"/>
<text class="k" x="138.6" y="959" textLength="110" lengthAdjust="spacingAndGlyphs">Proposed drillhole</text>
<circle cx="106.6" cy="987" r="5.3" fill="#000"/>
<text class="k" x="138.6" y="993" textLength="50" lengthAdjust="spacingAndGlyphs">Drillhole</text>
<path d="M125.5 1012.7L89.7 1041.7M85.3 1037.7L91.6 1045" fill="none" stroke="#2b3590" stroke-width="2.5"/>
<text class="k" x="138.6" y="1033" textLength="86" lengthAdjust="spacingAndGlyphs">Drillhole trace</text>
<polygon points="92,1055 118.8,1058.3 129.4,1068.3 128.5,1078.3 123.6,1085 112.5,1077.3 97,1074 84.8,1067.3" fill="none" stroke="#2b3590" stroke-width="3"/>
<text class="k" x="138.6" y="1076" textLength="45.6" lengthAdjust="spacingAndGlyphs">ML 140</text>
<text class="k" x="281" y="948.3" textLength="37" lengthAdjust="spacingAndGlyphs">Assay</text>
<rect x="311" y="966" width="16" height="16.7" fill="#e8202e"/>
<rect x="311" y="999.3" width="16" height="16.4" fill="#f58b2d"/>
<rect x="311" y="1031" width="16" height="17" fill="#fbe82d"/>
<rect x="311" y="1063" width="16" height="17" fill="#1aa64a"/>
<text class="k" x="346.6" y="978" textLength="80" lengthAdjust="spacingAndGlyphs">over 5 g/t Au</text>
<text class="k" x="346" y="1016.7" textLength="71" lengthAdjust="spacingAndGlyphs">2 - 5 g/t Au</text>
<text class="k" x="346" y="1047.7" textLength="71" lengthAdjust="spacingAndGlyphs">1 - 2 g/t Au</text>
<text class="k" x="345" y="1079.3" textLength="82" lengthAdjust="spacingAndGlyphs">0.5 - 1 g/t Au</text>
</g>
<g id="compass">
<path d="M605 958.7V921.7" stroke="#111" stroke-width="2" fill="none" marker-end="url(#st)"/>
<path d="M605 958.7V996" stroke="#111" stroke-width="2" fill="none" marker-end="url(#st)"/>
<path d="M605 958.7H567" stroke="#111" stroke-width="2" fill="none" marker-end="url(#st)"/>
<path d="M605 958.7H642" stroke="#111" stroke-width="2" fill="none" marker-end="url(#st)"/>
<text class="c" x="603.5" y="909" textLength="11" lengthAdjust="spacingAndGlyphs">N</text>
<text class="c" x="603.5" y="1028" textLength="10" lengthAdjust="spacingAndGlyphs">S</text>
<text class="c" x="551" y="966" textLength="15" lengthAdjust="spacingAndGlyphs">W</text>
<text class="c" x="656" y="966" textLength="10" lengthAdjust="spacingAndGlyphs">E</text>
</g>
<g id="scale">
<path d="M508.5 1053V1066H703V1053" fill="none" stroke="#111" stroke-width="2"/>
<text class="k" x="508" y="1049" text-anchor="middle">0</text>
<text class="k" x="702" y="1049" text-anchor="middle">50</text>
<text class="k" x="565" y="1081.7" textLength="75" lengthAdjust="spacing" style="font-size:12px">meters</text>
</g>
</svg>
